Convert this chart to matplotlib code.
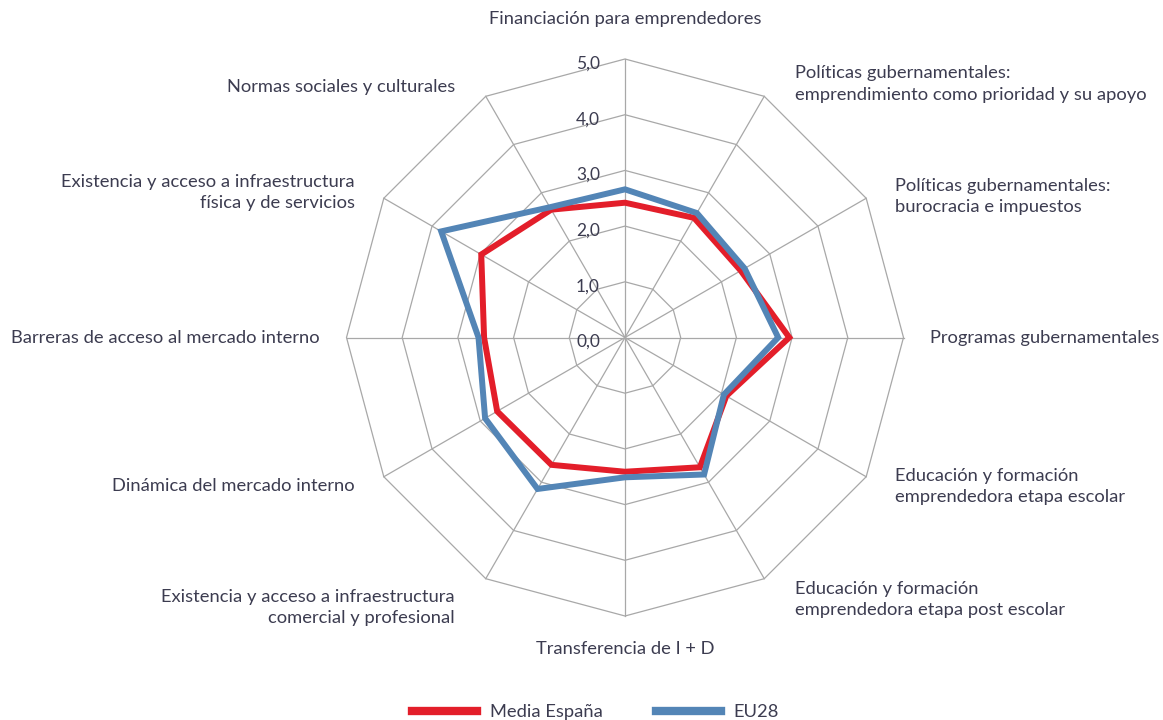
import numpy as np
import matplotlib.pyplot as plt
from matplotlib.patches import Polygon
from matplotlib.lines import Line2D

plt.rcParams['font.family'] = ['Lato', 'DejaVu Sans']

categories = [
    'Financiación para emprendedores',
    'Políticas gubernamentales:\nemprendimiento como prioridad y su apoyo',
    'Políticas gubernamentales:\nburocracia e impuestos',
    'Programas gubernamentales',
    'Educación y formación\nemprendedora etapa escolar',
    'Educación y formación\nemprendedora etapa post escolar',
    'Transferencia de I + D',
    'Existencia y acceso a infraestructura\ncomercial y profesional',
    'Dinámica del mercado interno',
    'Barreras de acceso al mercado interno',
    'Existencia y acceso a infraestructura\nfísica y de servicios',
    'Normas sociales y culturales',
]
media_espana = [2.42, 2.48, 2.40, 2.95, 2.10, 2.69, 2.41, 2.64, 2.65, 2.53, 2.98, 2.65]
eu28 = [2.66, 2.58, 2.48, 2.75, 2.05, 2.84, 2.51, 3.14, 2.90, 2.63, 3.81, 2.70]
series_names = ['Media España', 'EU28']
levels = [0, 1, 2, 3, 4, 5]
level_labels = ['0,0', '1,0', '2,0', '3,0', '4,0', '5,0']

text_color = '#3c3c50'
grid_color = '#a8a8a8'
colors = ['#e31e2a', '#5385b6']

n = len(categories)
ang = np.pi / 2 - np.arange(n) * 2 * np.pi / n
ca, sa = np.cos(ang), np.sin(ang)

fig = plt.figure(figsize=(11.63, 7.2), dpi=100)
ax = fig.add_axes([0, 0, 1, 1])
unit = 55.7  # pixels per value unit
ax.set_xlim(-625 / unit, (1163 - 625) / unit)
ax.set_ylim(-(720 - 337.5) / unit, 337.5 / unit)
ax.axis('off')

# polygon grid
for lv in levels[1:]:
    ax.add_patch(Polygon(np.column_stack([lv * ca, lv * sa]), closed=True,
                         fill=False, edgecolor=grid_color, lw=0.9, zorder=1))
for i in range(n):
    ax.plot([0, levels[-1] * ca[i]], [0, levels[-1] * sa[i]],
            color=grid_color, lw=0.9, zorder=1)

for lv, lab in zip(levels, level_labels):
    ax.text(-0.45, lv - 0.08, lab, ha='right', va='center',
            fontsize=12.5, color=text_color, zorder=2)

# series
handles = []
for vals, name, col in zip([media_espana, eu28], series_names, colors):
    v = np.array(vals)
    ax.add_patch(Polygon(np.column_stack([v * ca, v * sa]), closed=True,
                         fill=False, edgecolor=col, lw=4.3,
                         joinstyle='miter', zorder=3))
    handles.append(Line2D([], [], color=col, lw=6, label=name))

# category labels
shifts = {0: (0, 0.12), 1: (0.25, -0.3), 2: (0, -0.27), 3: (-0.13, 0),
          4: (0, 0.12), 5: (0.25, 0.15), 7: (-0.25, 0), 8: (0, 0.14),
          9: (0.12, 0), 10: (0, -0.2), 11: (-0.25, -0.35)}
for i, lab in enumerate(categories):
    r = 5.6
    dx, dy = shifts.get(i, (0, 0))
    x, y = r * ca[i] + dx, r * sa[i] + dy
    if ca[i] > 0.1:
        ha = 'left'
    elif ca[i] < -0.1:
        ha = 'right'
    else:
        ha = 'center'
    ax.text(x, y, lab, ha=ha, va='center', fontsize=13.2, color=text_color,
            linespacing=1.4, multialignment=ha)

leg = ax.legend(handles=handles, loc='center', bbox_to_anchor=(0.512, 0.011),
                ncol=2, frameon=False, fontsize=13.2, handlelength=3.55,
                handletextpad=0.7, columnspacing=2.9)
for t in leg.get_texts():
    t.set_color(text_color)

fig.savefig('out.png', dpi=100)
